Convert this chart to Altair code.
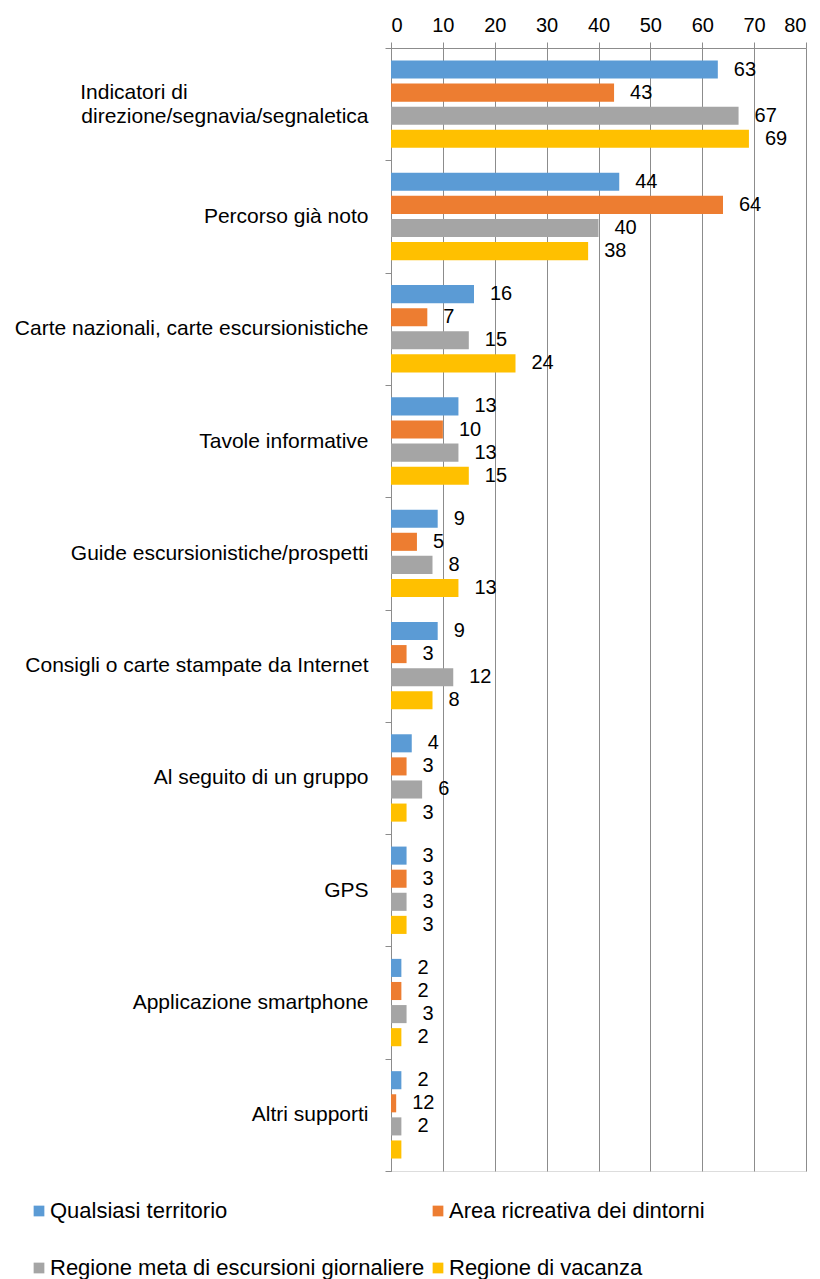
import altair as alt
import pandas as pd

categories = [
    "Indicatori di direzione/segnavia/segnaletica",
    "Percorso già noto",
    "Carte nazionali, carte escursionistiche",
    "Tavole informative",
    "Guide escursionistiche/prospetti",
    "Consigli o carte stampate da Internet",
    "Al seguito di un gruppo",
    "GPS",
    "Applicazione smartphone",
    "Altri supporti",
]
series = [
    "Qualsiasi territorio",
    "Area ricreativa dei dintorni",
    "Regione meta di escursioni giornaliere",
    "Regione di vacanza",
]
colors = ["#5B9BD5", "#ED7D31", "#A5A5A5", "#FFC000"]

qualsiasi = [63, 44, 16, 13, 9, 9, 4, 3, 2, 2]
area = [43, 64, 7, 10, 5, 3, 3, 3, 2, 1]
regione_giorn = [67, 40, 15, 13, 8, 12, 6, 3, 3, 2]
vacanza = [69, 38, 24, 15, 13, 8, 3, 3, 2, 2]

# label texts as they appear in the picture (overlapping labels in the last group)
lab_qualsiasi = ["63", "44", "16", "13", "9", "9", "4", "3", "2", "2"]
lab_area = ["43", "64", "7", "10", "5", "3", "3", "3", "2", "12"]
lab_regione = ["67", "40", "15", "13", "8", "12", "6", "3", "3", "2"]
lab_vacanza = ["69", "38", "24", "15", "13", "8", "3", "3", "2", ""]

rows = []
for s, vals, labs in zip(series, [qualsiasi, area, regione_giorn, vacanza],
                         [lab_qualsiasi, lab_area, lab_regione, lab_vacanza]):
    for c, v, l in zip(categories, vals, labs):
        rows.append({"categoria": c, "serie": s, "valore": v, "etichetta": l})
df = pd.DataFrame(rows)

FONT = "Liberation Sans"
GRID = "#8c8c8c"
FIRST = "Indicatori di direzione/segnavia/segnaletica"
# non-breaking spaces closed by a zero-width space so the first line is left-aligned
pad_nbsp = "\u00a0" * 31 + "\u200b"

y_enc = alt.Y("categoria:N", sort=categories,
              scale=alt.Scale(paddingInner=0, paddingOuter=0),
              axis=alt.Axis(title=None, labelFontSize=21, labelColor="#000",
                            labelFont=FONT, labelPadding=17, tickBand="extent",
                            tickColor=GRID, domainColor=GRID, tickSize=6,
                            labelLimit=500, labelLineHeight=24,
                            labelOffset={"condition": {"test": f"datum.value == '{FIRST}'", "value": -12}, "value": 0},
                            labelExpr=f"datum.value == '{FIRST}' ? ['Indicatori di" + pad_nbsp + "', 'direzione/segnavia/segnaletica'] : datum.value"))
yoff_enc = alt.YOffset("serie:N", sort=series,
                       scale=alt.Scale(paddingInner=0.217, paddingOuter=0.54))

bars = alt.Chart(df).mark_bar().encode(
    x=alt.X("valore:Q", scale=alt.Scale(domain=[0, 80]),
            axis=alt.Axis(orient="top", title=None, values=list(range(0, 81, 10)),
                          labelFontSize=20, labelColor="#000", labelFont=FONT,
                          tickColor=GRID, domainColor=GRID, tickSize=6,
                          gridColor=GRID, grid=True, labelPadding=7)),
    y=y_enc,
    yOffset=yoff_enc,
    color=alt.Color("serie:N", sort=series,
                    scale=alt.Scale(domain=series, range=colors),
                    legend=alt.Legend(title=None, orient="none", legendX=-363, legendY=1152,
                                      direction="horizontal",
                                      columns=2, symbolType="square", symbolSize=115,
                                      labelFontSize=22, labelFont=FONT,
                                      labelColor="#000",
                                      rowPadding=35, columnPadding=2, labelOffset=0,
                                      labelLimit=500, symbolStrokeWidth=0)),
)

labels = alt.Chart(df).mark_text(align="left", baseline="middle", dx=16, fontSize=20,
                                  font=FONT, color="#000").encode(
    x="valore:Q",
    y=alt.Y("categoria:N", sort=categories),
    yOffset=alt.YOffset("serie:N", sort=series),
    text="etichetta:N",
)

chart = (bars + labels).properties(
    width=415, height=1123,
    padding={"left": 6, "top": 7, "right": 5, "bottom": 2},
).configure_view(stroke=GRID, strokeWidth=1).configure(font=FONT)

chart.save("out.html", embed_options={"renderer": "svg", "actions": False})
